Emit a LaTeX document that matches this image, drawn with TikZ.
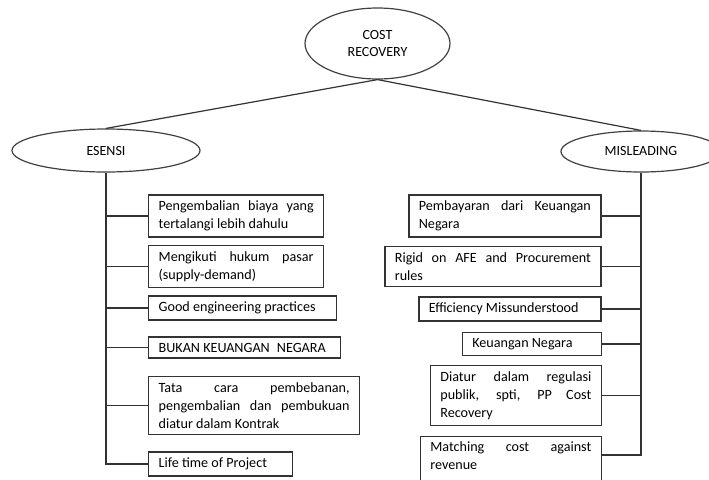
\documentclass[tikz,border=0pt]{standalone}
\usepackage{fontspec}
\setmainfont{Carlito}
\usetikzlibrary{shapes.geometric}
\hyphenpenalty=10000
\exhyphenpenalty=10000
\tikzset{
  topic/.style={ellipse, draw=black!75, line width=0.9pt, inner sep=0pt,
                align=center, font=\fontsize{10.5}{12.75}\selectfont},
  itembox/.style={draw=black!80, line width=1pt, inner xsep=7.5pt, inner ysep=4.5pt,
                text width=#1, align=justify,
                font=\fontsize{10.6}{13.5}\selectfont},
  link/.style={draw=black!80, line width=0.9pt},
}

\begin{document}
\begin{tikzpicture}[x=0.75pt, y=-0.75pt]
\useasboundingbox (0,0) rectangle (709,479);

\node[topic, minimum width=108.75pt, minimum height=53.25pt] (cost) at (377.5,43.5) {COST\\RECOVERY};
\node[topic, minimum width=141pt, minimum height=32.25pt] (esensi) at (106,150.5) {ESENSI};
\node[topic, minimum width=120pt, minimum height=30.75pt] (misleading) at (641,151.5) {MISLEADING};

\draw[link] (cost.south) -- (esensi.north);
\draw[link] (cost.south) -- (misleading.north);

\node[itembox=116.25pt, anchor=west] (e1) at (148,216) {Pengembalian biaya yang\linebreak tertalangi lebih dahulu};
\node[itembox=116.25pt, anchor=west] (e2) at (148,266.5) {Mengikuti hukum pasar\linebreak (supply-demand)};
\node[itembox=126pt, anchor=west] (e3) at (148,308) {Good engineering practices};
\node[itembox=129pt, anchor=west] (e4) at (148,347.5) {BUKAN KEUANGAN\enspace NEGARA};
\node[itembox=143.25pt, anchor=west] (e5) at (148,405.5) {Tata cara pembebanan,\linebreak pengembalian dan pembukuan\linebreak diatur dalam Kontrak};
\node[itembox=93pt, anchor=west] (e6) at (148,464) {Life time of Project};

\node[itembox=129pt, anchor=east] (m1) at (601.5,216) {Pembayaran dari Keuangan\linebreak Negara};
\node[itembox=147pt, anchor=east] (m2) at (601.5,266.5) {Rigid on AFE and Procurement\linebreak rules};
\node[itembox=121.5pt, anchor=east] (m3) at (601.5,309) {Efficiency Missunderstood};
\node[itembox=89.25pt, anchor=east] (m4) at (602,344) {Keuangan Negara};
\node[itembox=113.25pt, anchor=east] (m5) at (602,395.5) {Diatur dalam regulasi\linebreak publik, spti, PP Cost\linebreak Recovery};
\node[itembox=120.75pt, anchor=north east] (m6) at (602,435.5) {Matching cost against\linebreak revenue\linebreak\mbox{}};
\coordinate (m6b) at ([yshift=-14.6pt]m6.north east);

\foreach \n in {e1,e2,e3,e4,e5}
  \draw[link] (\n.west) -- (\n.west -| esensi.south);
\draw[link] (esensi.south) |- (e6.west);

\foreach \n in {m1,m2,m3,m4,m5}
  \draw[link] (\n.east) -- (\n.east -| misleading.south);
\draw[link] (misleading.south) |- (m6b);
\end{tikzpicture}
\end{document}
